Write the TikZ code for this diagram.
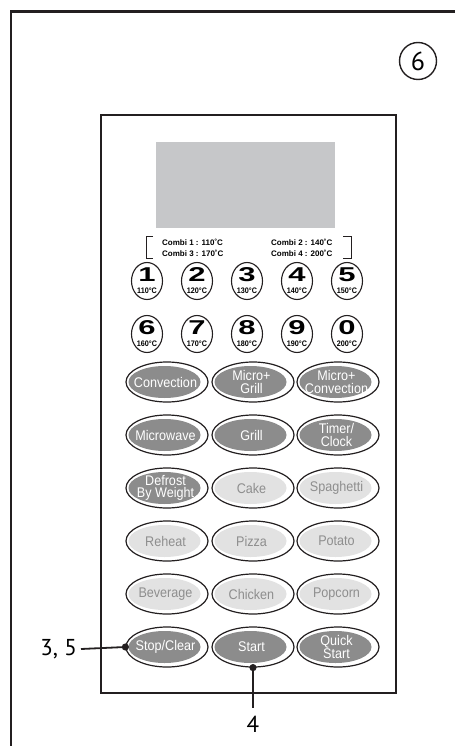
\documentclass[tikz,border=0pt]{standalone}
\usepackage{fontspec}
\setmainfont{Liberation Sans}
\newfontfamily\btnfont[FakeStretch=0.9]{Liberation Sans}
\newfontfamily\digfont[FakeStretch=1.55]{Liberation Sans}
\newfontfamily\tempfont[FakeStretch=0.9]{Liberation Sans}
\newfontfamily\labfont{PT Sans}
\usetikzlibrary{shapes.geometric}
\definecolor{btndark}{HTML}{8C8C8C}
\definecolor{btnlight}{HTML}{E2E2E2}
\definecolor{btngray}{HTML}{8E8E8E}
\definecolor{lcdgray}{HTML}{C6C7C9}
\definecolor{ink}{HTML}{231F20}
\newcommand{\ovalbtn}[5]{%
  \node[btnring] (#1) at (#2,#3) {};
  \node[#4fill] (#1f) at (#2-2.5,#3) {};
  \node[#4txt] (#1t) at (#2-1.5,#3) {#5};}
\newcommand{\numbtn}[5]{%
  \node[numring] (#1) at (#2,#3) {};
  \node[digit] (#1d) at (#2,#3-6) {#4};
  \node[temp] (#1t) at (#2,#3+9.5) {#5};}
\begin{document}
\begin{tikzpicture}[x=1pt,y=-1pt,
  btnring/.style={ellipse,draw=ink,line width=1.2pt,fill=white,minimum width=82pt,minimum height=40pt,inner sep=0pt},
  darkfill/.style={ellipse,fill=btndark,minimum width=72pt,minimum height=32pt,inner sep=0pt},
  lightfill/.style={darkfill,fill=btnlight},
  darktxt/.style={inner sep=0pt,align=center,text=white,font=\btnfont\fontsize{14}{12.5}\selectfont},
  lighttxt/.style={darktxt,text=btngray},
  numring/.style={ellipse,draw=ink,line width=1.1pt,minimum width=31pt,minimum height=37pt,inner sep=0pt},
  digit/.style={inner sep=0pt,font=\digfont\bfseries\fontsize{20}{20}\selectfont},
  temp/.style={inner sep=0pt,font=\tempfont\bfseries\fontsize{8}{8}\selectfont},
  combi/.style={inner sep=0pt,anchor=west,font=\bfseries\fontsize{8}{8}\selectfont},
  callout/.style={inner sep=0pt,font=\labfont\fontsize{23}{23}\selectfont},
  leader/.style={draw=ink,line width=1.8pt}
]
\useasboundingbox (0,0) rectangle (455,746);
% outer frame
\draw[ink,line width=2.5pt] (11,746) -- (11,11.5) -- (455,11.5);
% circled 6
\node[circle,draw=ink,line width=1.4pt,minimum size=37pt,inner sep=0pt,font=\labfont\fontsize{26}{26}\selectfont] (six) at (418,61) {6};
% panel
\node[draw=ink,line width=1.1pt,minimum width=295pt,minimum height=578pt,inner sep=0pt] (panel) at (248.5,404) {};
% display
\node[fill=lcdgray,minimum width=179pt,minimum height=86pt,inner sep=0pt] (lcd) at (245,185) {};
% combi labels
\draw[ink,line width=0.9pt] (153,236) -- (146,236) -- (146,258) -- (153,258);
\draw[ink,line width=0.9pt] (343,236) -- (351,236) -- (351,258) -- (343,258);
\node[combi] (c1) at (162,242) {Combi 1 : 110˚C};
\node[combi] (c3) at (162,253) {Combi 3 : 170˚C};
\node[combi] (c2) at (271,242) {Combi 2 : 140˚C};
\node[combi] (c4) at (271,253) {Combi 4 : 200˚C};
% number keys
\numbtn{n1}{147}{281}{1}{110°C}
\numbtn{n2}{197}{281}{2}{120°C}
\numbtn{n3}{247}{281}{3}{130°C}
\numbtn{n4}{297}{281}{4}{140°C}
\numbtn{n5}{347}{281}{5}{150°C}
\numbtn{n6}{147}{334}{6}{160°C}
\numbtn{n7}{197}{334}{7}{170°C}
\numbtn{n8}{247}{334}{8}{180°C}
\numbtn{n9}{297}{334}{9}{190°C}
\numbtn{n0}{347}{334}{0}{200°C}
% function keys
\ovalbtn{conv}{167}{382}{dark}{Convection}
\ovalbtn{mgrill}{253}{382}{dark}{Micro+\\Grill}
\ovalbtn{mconv}{338}{382}{dark}{Micro+\\Convection}
\ovalbtn{micro}{167}{435}{dark}{Microwave}
\ovalbtn{grill}{253}{435}{dark}{Grill}
\ovalbtn{timer}{338}{435}{dark}{Timer/\\Clock}
\ovalbtn{defrost}{167}{488}{dark}{Defrost\\By Weight}
\ovalbtn{cake}{253}{488}{light}{Cake}
\ovalbtn{spag}{338}{488}{light}{Spaghetti}
\ovalbtn{reheat}{167}{541}{light}{Reheat}
\ovalbtn{pizza}{253}{541}{light}{Pizza}
\ovalbtn{potato}{338}{541}{light}{Potato}
\ovalbtn{bev}{167}{594}{light}{Beverage}
\ovalbtn{chick}{253}{594}{light}{Chicken}
\ovalbtn{pop}{338}{594}{light}{Popcorn}
\ovalbtn{stop}{167}{647}{dark}{Stop/Clear}
\ovalbtn{start}{253}{647}{dark}{Start}
\ovalbtn{quick}{338}{647}{dark}{Quick\\Start}
% callouts
\node[callout,anchor=east] (l35) at (77,649) {3, 5};
\node[callout,anchor=north] (l4) at (253,716) {4};
\draw[leader] (l35.east) ++(4,0) -- (stop.west);
\fill[ink] (stop.west) circle (3.6);
\draw[leader] (start.south) -- (253,708);
\fill[ink] (start.south) circle (3.6);
\end{tikzpicture}
\end{document}
